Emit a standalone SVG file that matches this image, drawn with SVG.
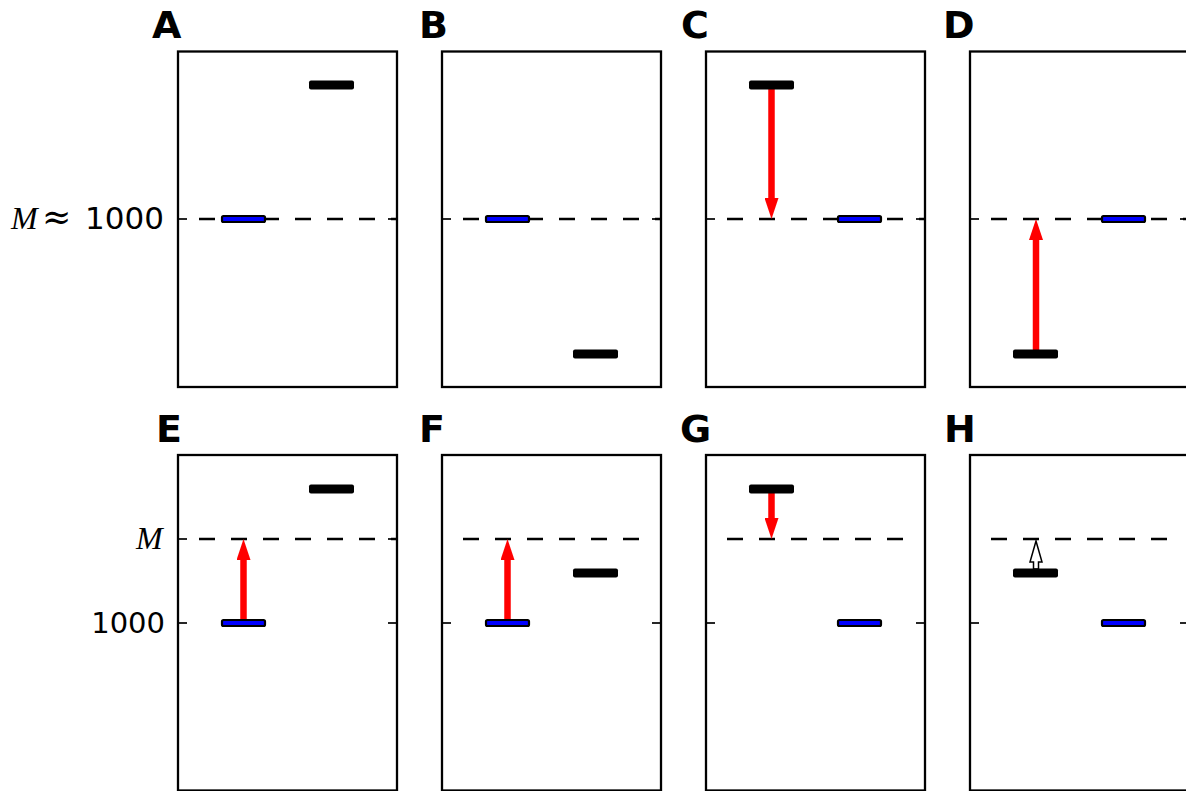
<svg xmlns="http://www.w3.org/2000/svg" width="1186" height="791" viewBox="0 0 1186 791">
<style>
.frame{fill:none;stroke:#000;stroke-width:2.3}
.dash{stroke:#000;stroke-width:2.7;stroke-dasharray:16 16;fill:none}
.tick{stroke:#000;stroke-width:1.7}
.blue{fill:#0000ff;stroke:#000;stroke-width:2.2}
.black{fill:#000}
.shaft{stroke:#ff0000;stroke-width:6.5;fill:none;marker-end:url(#head)}
.letter{font-family:"DejaVu Sans",sans-serif;font-weight:bold;font-size:38px}
.num{font-family:"DejaVu Sans",sans-serif;font-size:31px}
.num2{font-family:"DejaVu Sans",sans-serif;font-size:29px}
.mi{font-family:"Liberation Serif",serif;font-style:italic;font-size:32px}
.sym{font-family:"DejaVu Serif",serif;font-size:35px}
</style>
<defs>
<marker id="head" markerUnits="userSpaceOnUse" markerWidth="22" markerHeight="14" refX="0" refY="7" orient="auto" viewBox="0 0 22 14">
<path d="M0,0 L21,7 L0,14 z" fill="#ff0000"/>
</marker>
</defs>
<rect width="1186" height="791" fill="#fff"/>

<!-- axis labels -->
<g id="ylabels">
<text class="mi" x="11" y="229">M</text>
<text class="sym" x="42" y="229">≈</text>
<text class="num" x="164" y="229" text-anchor="end">1000</text>
<text class="mi" x="136" y="549">M</text>
<text class="num2" x="165" y="633" text-anchor="end">1000</text>
</g>

<!-- panels -->
<g id="panel-A">
<rect class="frame" x="178" y="51.5" width="219" height="335.5"/>
<line class="dash" x1="199" y1="219" x2="397" y2="219"/>
<line class="tick" x1="178" y1="219" x2="187" y2="219"/><line class="tick" x1="388" y1="219" x2="397" y2="219"/>
<text class="letter" x="152" y="38">A</text>
</g>
<g id="panel-B">
<rect class="frame" x="442" y="51.5" width="219" height="335.5"/>
<line class="dash" x1="463" y1="219" x2="661" y2="219"/>
<line class="tick" x1="442" y1="219" x2="451" y2="219"/><line class="tick" x1="652" y1="219" x2="661" y2="219"/>
<text class="letter" x="419" y="38">B</text>
</g>
<g id="panel-C">
<rect class="frame" x="706" y="51.5" width="219" height="335.5"/>
<line class="dash" x1="727" y1="219" x2="925" y2="219"/>
<line class="tick" x1="706" y1="219" x2="715" y2="219"/><line class="tick" x1="916" y1="219" x2="925" y2="219"/>
<text class="letter" x="681" y="38">C</text>
</g>
<g id="panel-D">
<rect class="frame" x="970" y="51.5" width="219" height="335.5"/>
<line class="dash" x1="991" y1="219" x2="1189" y2="219"/>
<line class="tick" x1="970" y1="219" x2="979" y2="219"/><line class="tick" x1="1180" y1="219" x2="1189" y2="219"/>
<text class="letter" x="943" y="38">D</text>
</g>
<g id="panel-E">
<rect class="frame" x="178" y="455" width="219" height="335.5"/>
<line class="dash" x1="199" y1="539" x2="397" y2="539"/>
<line class="tick" x1="178" y1="539" x2="187" y2="539"/><line class="tick" x1="388" y1="539" x2="397" y2="539"/>
<line class="tick" x1="178" y1="623" x2="187" y2="623"/><line class="tick" x1="388" y1="623" x2="397" y2="623"/>
<text class="letter" x="156" y="442">E</text>
</g>
<g id="panel-F">
<rect class="frame" x="442" y="455" width="219" height="335.5"/>
<line class="dash" x1="463" y1="539" x2="640" y2="539"/>
<line class="tick" x1="442" y1="623" x2="451" y2="623"/><line class="tick" x1="652" y1="623" x2="661" y2="623"/>
<text class="letter" x="419" y="442">F</text>
</g>
<g id="panel-G">
<rect class="frame" x="706" y="455" width="219" height="335.5"/>
<line class="dash" x1="727" y1="539" x2="904" y2="539"/>
<line class="tick" x1="706" y1="623" x2="715" y2="623"/><line class="tick" x1="916" y1="623" x2="925" y2="623"/>
<text class="letter" x="680" y="442">G</text>
</g>
<g id="panel-H">
<rect class="frame" x="970" y="455" width="219" height="335.5"/>
<line class="dash" x1="991" y1="539" x2="1168" y2="539"/>
<line class="tick" x1="970" y1="623" x2="979" y2="623"/><line class="tick" x1="1180" y1="623" x2="1189" y2="623"/>
<text class="letter" x="944" y="442">H</text>
</g>

<!-- connectors -->
<g id="connectors">
<line class="shaft" x1="771.5" y1="88" x2="771.5" y2="198"/>
<line class="shaft" x1="1036" y1="351" x2="1036" y2="240"/>
<line class="shaft" x1="243.5" y1="620" x2="243.5" y2="560"/>
<line class="shaft" x1="507.5" y1="620" x2="507.5" y2="560"/>
<line class="shaft" x1="771.5" y1="491" x2="771.5" y2="518"/>
<polygon points="1036,541 1042,562 1038.5,562 1038.5,569 1033.5,569 1033.5,562 1030,562" fill="#fff" stroke="#000" stroke-width="1.5" stroke-linejoin="miter"/>
</g>

<!-- level bars -->
<g id="bar-A-blue"><rect class="blue" x="222" y="216" width="43" height="6" rx="1.5"/></g>
<g id="bar-A-black"><rect class="black" x="309" y="80.5" width="45" height="9" rx="2"/></g>
<g id="bar-B-blue"><rect class="blue" x="486" y="216" width="43" height="6" rx="1.5"/></g>
<g id="bar-B-black"><rect class="black" x="573" y="349.5" width="45" height="9" rx="2"/></g>
<g id="bar-C-black"><rect class="black" x="749" y="80.5" width="45" height="9" rx="2"/></g>
<g id="bar-C-blue"><rect class="blue" x="838" y="216" width="43" height="6" rx="1.5"/></g>
<g id="bar-D-black"><rect class="black" x="1013" y="349.5" width="45" height="9" rx="2"/></g>
<g id="bar-D-blue"><rect class="blue" x="1102" y="216" width="43" height="6" rx="1.5"/></g>
<g id="bar-E-blue"><rect class="blue" x="222" y="620" width="43" height="6" rx="1.5"/></g>
<g id="bar-E-black"><rect class="black" x="309" y="484.5" width="45" height="9" rx="2"/></g>
<g id="bar-F-blue"><rect class="blue" x="486" y="620" width="43" height="6" rx="1.5"/></g>
<g id="bar-F-black"><rect class="black" x="573" y="568.5" width="45" height="9" rx="2"/></g>
<g id="bar-G-black"><rect class="black" x="749" y="484.5" width="45" height="9" rx="2"/></g>
<g id="bar-G-blue"><rect class="blue" x="838" y="620" width="43" height="6" rx="1.5"/></g>
<g id="bar-H-black"><rect class="black" x="1013" y="568.5" width="45" height="9" rx="2"/></g>
<g id="bar-H-blue"><rect class="blue" x="1102" y="620" width="43" height="6" rx="1.5"/></g>
</svg>
